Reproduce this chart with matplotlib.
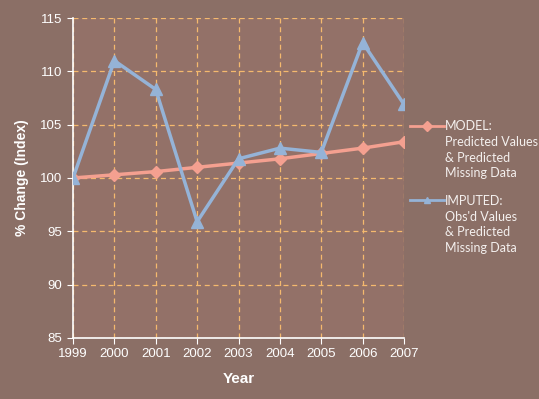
import numpy as np
import matplotlib.pyplot as plt

years = [1999, 2000, 2001, 2002, 2003, 2004, 2005, 2006, 2007]
model = [100.0, 100.3, 100.6, 101.0, 101.4, 101.8, 102.3, 102.8, 103.4]
imputed = [100.0, 111.0, 108.3, 95.9, 101.8, 102.8, 102.4, 112.7, 106.9]
model_label = ["MODEL:", "Predicted Values\n& Predicted\nMissing Data"]
imputed_label = ["IMPUTED:", "Obs'd Values\n& Predicted\nMissing Data"]

bg = "#8b6f66"
plot_bg = "#937168"
grid_c = "#f5b96e"
W, H = 539, 399

fig = plt.figure(figsize=(W/100, H/100), dpi=100, facecolor=bg)
ax = fig.add_axes([73/W, 61/H, 331/W, 320/H], facecolor=plot_bg)

ax.plot(years, model, color="#f4a090", lw=2.5, marker="D", ms=6, label=model_label[0], zorder=3)
ax.plot(years, imputed, color="#95b3d7", lw=2.5, marker="^", ms=8, label=imputed_label[0], zorder=4)

ax.set_xlim(1999, 2007)
ax.set_ylim(85, 115)
ax.set_xticks(years)
ax.set_yticks(np.arange(85, 116, 5))
ax.grid(True, color=grid_c, ls=(0, (4, 3)), lw=0.9)
for s in ["top", "right"]:
    ax.spines[s].set_visible(False)
for s in ["left", "bottom"]:
    ax.spines[s].set_color("white")
    ax.spines[s].set_linewidth(1.2)
ax.tick_params(colors="white", labelsize=9.5, length=4, direction="out")
for t in ax.get_xticklabels() + ax.get_yticklabels():
    t.set_family("Liberation Sans")
ax.set_xlabel("Year", color="white", fontsize=11, fontweight="bold", family="Liberation Sans", labelpad=8)
ax.set_ylabel("% Change (Index)", color="white", fontsize=10, fontweight="bold", family="Liberation Sans", labelpad=8)

# legend shows the first line of each label; the rest goes under it
fsize = 9
leg = ax.legend(loc="upper left", bbox_to_anchor=(1.0, 0.70), frameon=False,
                handlelength=2.7, handletextpad=0.05, labelspacing=5.0, borderpad=0,
                prop={"family": "Lato", "size": fsize})
for t in leg.get_texts():
    t.set_color("#f4f0ee")
for h in leg.legend_handles:
    h.set_markersize(5)
    h.set_linewidth(2)

fig.canvas.draw()
for t, rest in zip(leg.get_texts(), [model_label[1], imputed_label[1]]):
    bb = t.get_window_extent()
    fig.text(bb.x0/W, (bb.y0 - 4)/H, rest, va="top", ha="left", color="#f4f0ee",
             family="Lato", fontsize=fsize, linespacing=1.35)

fig.savefig("out.png", dpi=100, facecolor=bg)
